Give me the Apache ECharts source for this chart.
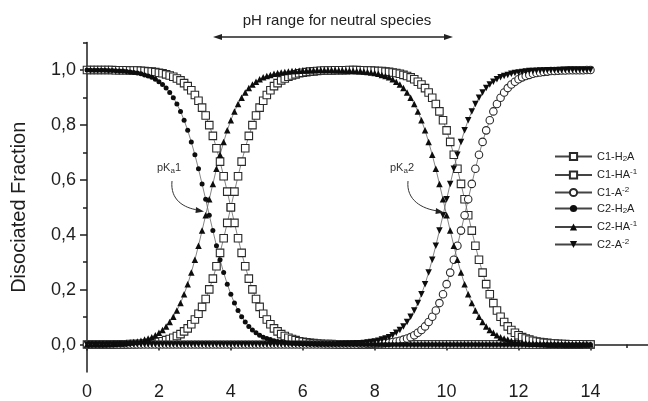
<!DOCTYPE html>
<html lang="en">
<head>
    <meta charset="UTF-8">
    <title>Disociated Fraction</title>
    <script src="https://cdn.jsdelivr.net/npm/echarts@6.0.0/dist/echarts.min.js"></script>
    <style>
        html, body { margin: 0; padding: 0; background: #fff; }
        #main { width: 648px; height: 401px; }
    </style>
</head>
<body>
<div id="main"></div>
<script>
    // pH grid
    var ph = [
        0,0.1,0.2,0.3,0.4,0.5,0.6,0.7,0.8,0.9,
        1,1.1,1.2,1.3,1.4,1.5,1.6,1.7,1.8,1.9,
        2,2.1,2.2,2.3,2.4,2.5,2.6,2.7,2.8,2.9,
        3,3.1,3.2,3.3,3.4,3.5,3.6,3.7,3.8,3.9,
        4,4.1,4.2,4.3,4.4,4.5,4.6,4.7,4.8,4.9,
        5,5.1,5.2,5.3,5.4,5.5,5.6,5.7,5.8,5.9,
        6,6.1,6.2,6.3,6.4,6.5,6.6,6.7,6.8,6.9,
        7,7.1,7.2,7.3,7.4,7.5,7.6,7.7,7.8,7.9,
        8,8.1,8.2,8.3,8.4,8.5,8.6,8.7,8.8,8.9,
        9,9.1,9.2,9.3,9.4,9.5,9.6,9.7,9.8,9.9,
        10,10.1,10.2,10.3,10.4,10.5,10.6,10.7,10.8,10.9,
        11,11.1,11.2,11.3,11.4,11.5,11.6,11.7,11.8,11.9,
        12,12.1,12.2,12.3,12.4,12.5,12.6,12.7,12.8,12.9,
        13,13.1,13.2,13.3,13.4,13.5,13.6,13.7,13.8,13.9,
        14
    ];

    // C1 species
    var c1H2A = [
        1,1,1,1,1,1,1,1,.999,.999,
        .999,.999,.998,.998,.998,.997,.996,.995,.994,.992,
        .990,.988,.984,.980,.975,.969,.962,.952,.941,.926,
        .909,.888,.863,.834,.799,.760,.715,.666,.613,.557,
        .500,.443,.387,.334,.285,.240,.201,.166,.137,.112,
        .091,.074,.059,.048,.038,.031,.025,.020,.016,.012,
        .010,.008,.006,.005,.004,.003,.002,.002,.002,.001,
        .001,.001,.001,0,0,0,0,0,0,0,
        0,0,0,0,0,0,0,0,0,0,
        0,0,0,0,0,0,0,0,0,0,
        0,0,0,0,0,0,0,0,0,0,
        0,0,0,0,0,0,0,0,0,0,
        0,0,0,0,0,0,0,0,0,0,
        0,0,0,0,0,0,0,0,0,0,
        0
    ];
    var c1HA = [
        0,0,0,0,0,0,0,0,.001,.001,
        .001,.001,.002,.002,.002,.003,.004,.005,.006,.008,
        .010,.012,.016,.020,.025,.031,.038,.048,.059,.074,
        .091,.112,.137,.166,.201,.240,.285,.334,.387,.443,
        .500,.557,.613,.666,.715,.760,.799,.834,.863,.888,
        .909,.926,.941,.952,.962,.969,.975,.980,.984,.988,
        .990,.992,.994,.995,.996,.997,.998,.998,.998,.999,
        .999,.999,.999,1,1,1,.999,.999,.998,.998,
        .997,.996,.996,.994,.993,.991,.989,.986,.982,.978,
        .973,.966,.957,.947,.934,.918,.899,.876,.849,.817,
        .780,.738,.691,.640,.585,.529,.471,.415,.360,.309,
        .262,.220,.183,.151,.124,.101,.082,.066,.053,.043,
        .034,.027,.022,.018,.014,.011,.009,.007,.006,.004,
        .004,.003,.002,.002,.001,.001,.001,.001,.001,0,
        0
    ];
    var c1A = [
        0,0,0,0,0,0,0,0,0,0,
        0,0,0,0,0,0,0,0,0,0,
        0,0,0,0,0,0,0,0,0,0,
        0,0,0,0,0,0,0,0,0,0,
        0,0,0,0,0,0,0,0,0,0,
        0,0,0,0,0,0,0,0,0,0,
        0,0,0,0,0,0,0,0,0,0,
        0,0,0,0,0,0,.001,.001,.002,.002,
        .003,.004,.004,.006,.007,.009,.011,.014,.018,.022,
        .027,.034,.043,.053,.066,.082,.101,.124,.151,.183,
        .220,.262,.309,.360,.415,.471,.529,.585,.640,.691,
        .738,.780,.817,.849,.876,.899,.918,.934,.947,.957,
        .966,.973,.978,.982,.986,.989,.991,.993,.994,.996,
        .996,.997,.998,.998,.999,.999,.999,.999,.999,1,
        1
    ];

    // C2 species
    var c2H2A = [
        1,.999,.999,.999,.999,.999,.998,.998,.997,.996,
        .996,.994,.993,.991,.989,.986,.982,.978,.973,.966,
        .957,.947,.934,.918,.899,.876,.849,.817,.780,.738,
        .691,.640,.585,.529,.471,.415,.360,.309,.262,.220,
        .183,.151,.124,.101,.082,.066,.053,.043,.034,.027,
        .022,.018,.014,.011,.009,.007,.006,.004,.004,.003,
        .002,.002,.001,.001,0,0,0,0,0,0,
        0,0,0,0,0,0,0,0,0,0,
        0,0,0,0,0,0,0,0,0,0,
        0,0,0,0,0,0,0,0,0,0,
        0,0,0,0,0,0,0,0,0,0,
        0,0,0,0,0,0,0,0,0,0,
        0,0,0,0,0,0,0,0,0,0,
        0,0,0,0,0,0,0,0,0,0,
        0
    ];
    var c2HA = [
        0,.001,.001,.001,.001,.001,.002,.002,.003,.004,
        .004,.006,.007,.009,.011,.014,.018,.022,.027,.034,
        .043,.053,.066,.082,.101,.124,.151,.183,.220,.262,
        .309,.360,.415,.471,.529,.585,.640,.691,.738,.780,
        .817,.849,.876,.899,.918,.934,.947,.957,.966,.973,
        .978,.982,.986,.989,.991,.993,.994,.996,.996,.997,
        .998,.998,.999,.999,1,1,1,1,1,1,
        .999,.999,.998,.998,.997,.996,.996,.994,.993,.991,
        .989,.986,.982,.978,.973,.966,.957,.947,.934,.918,
        .899,.876,.849,.817,.780,.738,.691,.640,.585,.529,
        .471,.415,.360,.309,.262,.220,.183,.151,.124,.101,
        .082,.066,.053,.043,.034,.027,.022,.018,.014,.011,
        .009,.007,.006,.004,.004,.003,.002,.002,.001,.001,
        .001,.001,.001,0,0,0,0,0,0,0,
        0
    ];
    var c2A = [
        0,0,0,0,0,0,0,0,0,0,
        0,0,0,0,0,0,0,0,0,0,
        0,0,0,0,0,0,0,0,0,0,
        0,0,0,0,0,0,0,0,0,0,
        0,0,0,0,0,0,0,0,0,0,
        0,0,0,0,0,0,0,0,0,0,
        0,0,0,0,0,0,0,0,0,0,
        .001,.001,.002,.002,.003,.004,.004,.006,.007,.009,
        .011,.014,.018,.022,.027,.034,.043,.053,.066,.082,
        .101,.124,.151,.183,.220,.262,.309,.360,.415,.471,
        .529,.585,.640,.691,.738,.780,.817,.849,.876,.899,
        .918,.934,.947,.957,.966,.973,.978,.982,.986,.989,
        .991,.993,.994,.996,.996,.997,.998,.998,.999,.999,
        .999,.999,.999,1,1,1,1,1,1,1,
        1
    ];

    // names / legend text / ticks
    var seriesNames = ['C1-H2A', 'C1-HA-1', 'C1-A-2', 'C2-H2A', 'C2-HA-1', 'C2-A-2'];
    var legendTexts = ['C1-H{sub|2}A', 'C1-HA{sup|-1}', 'C1-A{sup|-2}', 'C2-H{sub|2}A', 'C2-HA{sup|-1}', 'C2-A{sup|-2}'];
    var xMajor = [0, 2, 4, 6, 8, 10, 12, 14];
    var xMinor = [1, 3, 5, 7, 9, 11, 13, 15];
    var yMajor = [0, 0.2, 0.4, 0.6, 0.8, 1.0];
    var yMinor = [0.1, 0.3, 0.5, 0.7, 0.9, 1.1];

    var font = 'Liberation Sans';
    var ink = '#1e1e1e';

    function pairs(arr) {
        var out = [];
        for (var i = 0; i < ph.length; i++) {
            out.push([ph[i], arr[i]]);
        }
        return out;
    }

    function makeSeries(name, arr, symbol, size, style, rotate) {
        return {
            name: name,
            type: 'line',
            data: pairs(arr),
            symbol: symbol,
            symbolSize: size,
            symbolRotate: rotate || 0,
            showSymbol: true,
            showAllSymbol: true,
            lineStyle: { color: '#666', width: 0.8 },
            itemStyle: style,
            emphasis: { disabled: true },
            animation: false
        };
    }

    var openStyle = { color: '#fff', borderColor: '#2a2a2a', borderWidth: 1.1 };
    var fillStyle = { color: '#0d0d0d', borderWidth: 0 };

    var myChart = echarts.init(document.getElementById('main'));

    var option = {
        animation: false,
        textStyle: { fontFamily: font },
        grid: { left: 87, right: 0, top: 42.5, bottom: 27.7 },
        legend: {
            orient: 'vertical',
            left: 549,
            top: 146,
            itemWidth: 37,
            itemHeight: 9,
            itemGap: 5,
            data: seriesNames,
            lineStyle: { color: '#444' },
            formatter: function (name) {
                return legendTexts[seriesNames.indexOf(name)];
            },
            textStyle: {
                fontSize: 11,
                color: '#222',
                fontFamily: font,
                rich: {
                    sub: { fontSize: 8, fontFamily: font, color: '#222', padding: [5, 0, 0, 0] },
                    sup: { fontSize: 8, fontFamily: font, color: '#222', padding: [0, 0, 6, 0] }
                }
            }
        },
        xAxis: [{
            type: 'value',
            min: 0,
            max: 15.6,
            position: 'bottom',
            splitLine: { show: false },
            axisLine: { lineStyle: { color: ink, width: 1.5 } },
            axisTick: { customValues: xMajor, length: 6, lineStyle: { color: ink, width: 1.5 } },
            axisLabel: { customValues: xMajor, fontSize: 18, color: ink, margin: 11, fontFamily: font }
        }, {
            type: 'value',
            min: 0,
            max: 15.6,
            position: 'bottom',
            splitLine: { show: false },
            axisLine: { show: false },
            axisTick: { customValues: xMinor, length: 3.5, lineStyle: { color: ink, width: 1.5 } },
            axisLabel: { show: false }
        }],
        yAxis: [{
            type: 'value',
            min: -0.1,
            max: 1.1,
            position: 'left',
            name: 'Disociated Fraction',
            nameLocation: 'middle',
            nameGap: 58,
            nameTextStyle: { fontSize: 20, color: ink, fontFamily: font },
            splitLine: { show: false },
            axisLine: { show: true, lineStyle: { color: ink, width: 1.5 } },
            axisTick: { customValues: yMajor, length: 7, lineStyle: { color: ink, width: 1.5 } },
            axisLabel: {
                customValues: yMajor,
                fontSize: 18,
                color: ink,
                margin: 11,
                fontFamily: font,
                formatter: function (v) { return v.toFixed(1).replace('.', ','); }
            }
        }, {
            type: 'value',
            min: -0.1,
            max: 1.1,
            position: 'left',
            splitLine: { show: false },
            axisLine: { show: false },
            axisTick: { show: true, customValues: yMinor, length: 4, lineStyle: { color: ink, width: 1.5 } },
            axisLabel: { show: false }
        }],
        series: [
            makeSeries(seriesNames[0], c1H2A, 'rect', 7.5, openStyle),
            makeSeries(seriesNames[1], c1HA, 'rect', 7.5, openStyle),
            makeSeries(seriesNames[2], c1A, 'circle', 7.5, openStyle),
            makeSeries(seriesNames[3], c2H2A, 'circle', 5, fillStyle),
            makeSeries(seriesNames[4], c2HA, 'triangle', 6.5, fillStyle),
            makeSeries(seriesNames[5], c2A, 'triangle', 6.5, fillStyle, 180)
        ],
        graphic: [
            // top annotation
            { type: 'text', x: 337, y: 21, z: 100,
              style: { text: 'pH range for neutral species', fontSize: 15, fontFamily: font, fill: '#222', align: 'center', verticalAlign: 'middle' } },
            { type: 'line', z: 100, shape: { x1: 219, y1: 37, x2: 447, y2: 37 }, style: { stroke: '#222', lineWidth: 1.5 } },
            { type: 'polygon', z: 100, shape: { points: [[213, 37], [222, 34], [222, 40]] }, style: { fill: '#222' } },
            { type: 'polygon', z: 100, shape: { points: [[453, 37], [444, 34], [444, 40]] }, style: { fill: '#222' } },
            // pKa1
            { type: 'text', x: 157, y: 168, z: 100,
              style: { text: 'pK{s|a}1', fontSize: 11, fontFamily: font, fill: '#333', verticalAlign: 'middle',
                       rich: { s: { fontSize: 8, fontFamily: font, fill: '#333', padding: [6, 0, 0, 0] } } } },
            { type: 'bezierCurve', z: 100,
              shape: { x1: 172, y1: 181, cpx1: 170, cpy1: 200, cpx2: 184, cpy2: 208, x2: 198, y2: 210 },
              style: { stroke: '#333', lineWidth: 1, fill: null } },
            { type: 'polygon', z: 100, shape: { points: [[204, 211.5], [196, 207], [195.5, 213]] }, style: { fill: '#222' } },
            // pKa2
            { type: 'text', x: 390, y: 168, z: 100,
              style: { text: 'pK{s|a}2', fontSize: 11, fontFamily: font, fill: '#333', verticalAlign: 'middle',
                       rich: { s: { fontSize: 8, fontFamily: font, fill: '#333', padding: [6, 0, 0, 0] } } } },
            { type: 'bezierCurve', z: 100,
              shape: { x1: 408, y1: 181, cpx1: 406, cpy1: 200, cpx2: 422, cpy2: 209, x2: 438, y2: 211 },
              style: { stroke: '#333', lineWidth: 1, fill: null } },
            { type: 'polygon', z: 100, shape: { points: [[444, 212.5], [436, 208], [435.5, 214]] }, style: { fill: '#222' } }
        ]
    };

    myChart.setOption(option);
</script>
</body>
</html>
